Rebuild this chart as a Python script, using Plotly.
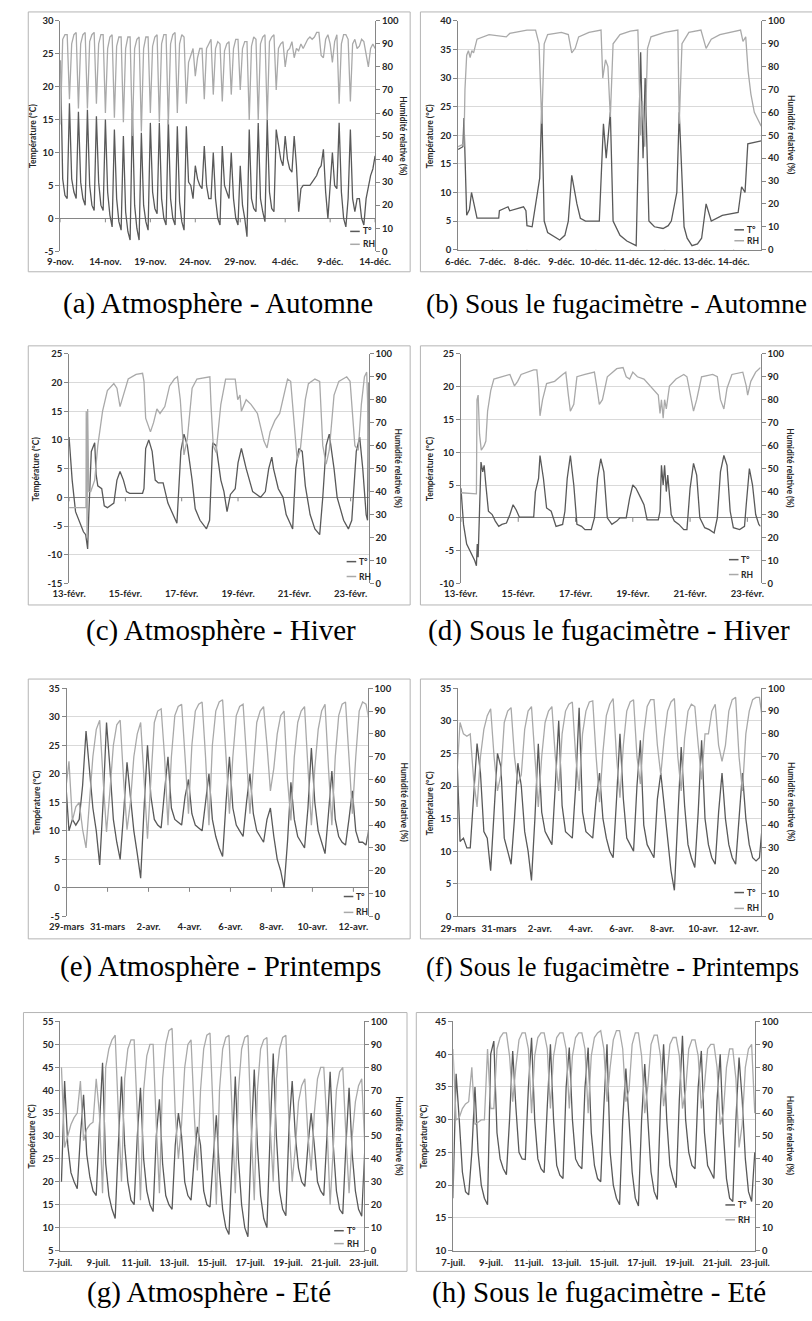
import plotly.graph_objects as go

W, H = 812, 1321

# ---------------- tick labels ----------------
aut_a_labels = ["9-nov.", "14-nov.", "19-nov.", "24-nov.", "29-nov.", "4-déc.", "9-déc.", "14-déc."]
aut_a_pos = [0, 5, 10, 15, 20, 25, 30, 35]
aut_b_labels = ["6-déc.", "7-déc.", "8-déc.", "9-déc.", "10-déc.", "11-déc.", "12-déc.", "13-déc.", "14-déc."]
aut_b_pos = [0, 1, 2, 3, 4, 5, 6, 7, 8]
hiv_labels = ["13-févr.", "15-févr.", "17-févr.", "19-févr.", "21-févr.", "23-févr."]
hiv_pos = [0, 2, 4, 6, 8, 10]
pri_labels = ["29-mars", "31-mars", "2-avr.", "4-avr.", "6-avr.", "8-avr.", "10-avr.", "12-avr."]
pri_pos = [0, 2, 4, 6, 8, 10, 12, 14]
ete_labels = ["7-juil.", "9-juil.", "11-juil.", "13-juil.", "15-juil.", "17-juil.", "19-juil.", "21-juil.", "23-juil."]
ete_pos = [0, 2, 4, 6, 8, 10, 12, 14, 16]
rh_ticks = [0, 10, 20, 30, 40, 50, 60, 70, 80, 90, 100]

# ---------------- (a) Atmosphère - Automne : samples every 6 h from 9-nov ----------------
a_step = 0.25
a_temp = [24, 6, 3.5, 3.0, 17.5, 6, 4, 3.0, 16.2, 5.5, 3, 2.0, 16.5, 5, 2, 1.2,
          15.5, 5.5, 2, 1.2, 15.0, 4, 0.5, -1.3, 13.5, 3, -0.5, -1.8, 12.5, 1, -2, -3.3,
          16.0, 2, -1.5, -3.3, 13.0, 2, -0.5, -1.8, 14.5, 4, 1.5, 0.7, 14.5, 3, 0, -1.0,
          15.0, 3, 0, -1.0, 14.0, 2.5, -0.5, -1.8, 14.0, 5.5, 5, 3.0, 8.0, 6, 5, 4.5,
          11.0, 5, 3, 3.0, 10.0, 3, 0, -1.0, 11.0, 5, 4, 3.0, 10.0, 3, 0, -1.0,
          8.0, 2, 0, -2.8, 13.5, 3, 1.5, 1.0, 14.5, 3, 1, -0.5, 15.0, 4, 1.5, 1.0,
          13.5, 11, 9, 8, 12.5, 9, 7.5, 7, 12.5, 8, 1, 4.5, 5, 5, 5, 5,
          5.5, 6, 6.5, 7.5, 8, 10.5, 4, 0, 4.5, 10, 5, 4.5, 14.5, 4, 0, -1.3,
          3, 13.5, 3, 1, 3, 3, 0, -1, 3, 5, 6.5, 7.5, 9.5]
a_rh = [55, 92, 94, 94, 66, 90, 94, 95, 62, 90, 94, 95, 62, 91, 94, 95,
        64, 90, 94, 94, 60, 88, 93, 94, 58, 89, 93, 93, 56, 88, 93, 93,
        50, 88, 92, 93, 52, 88, 93, 93, 60, 89, 93, 94, 56, 90, 94, 94,
        55, 90, 94, 95, 60, 90, 94, 93, 64, 82, 85, 88, 76, 84, 88, 88,
        66, 88, 90, 92, 68, 88, 91, 90, 65, 87, 90, 91, 68, 88, 92, 92,
        70, 88, 91, 91, 57, 89, 93, 92, 57, 90, 93, 94, 57, 91, 93, 94,
        70, 88, 90, 91, 80, 87, 88, 91, 84, 88, 87, 90, 88, 90, 92, 93,
        92, 93, 95, 95, 85, 84, 92, 94, 90, 82, 91, 94, 64, 90, 94, 94,
        92, 65, 90, 92, 88, 89, 92, 91, 86, 80, 88, 90, 88]

# ---------------- (b) Sous le fugacimètre - Automne : (day, value) ----------------
b_temp_day = [0, 0.14, 0.17, 0.25, 0.33, 0.39, 0.55, 1.18, 1.2, 1.45, 1.5, 1.9, 1.97, 2.0, 2.15, 2.25,
              2.37, 2.43, 2.5, 2.6, 2.85, 2.95, 3.1, 3.2, 3.3, 3.45, 3.55, 3.7, 4.1, 4.22, 4.3, 4.42,
              4.5, 4.7, 4.9, 5.07, 5.17, 5.3, 5.37, 5.43, 5.54, 5.7, 5.95, 6.1, 6.19, 6.35, 6.42, 6.56,
              6.65, 6.79, 6.95, 7.07, 7.2, 7.35, 7.67, 8.13, 8.23, 8.33, 8.41, 8.8]
b_temp = [17.5, 18, 23, 6, 7, 10, 5.5, 5.5, 6.8, 7.5, 6.8, 7.5, 6.8, 4.2, 4, 8,
          12.5, 25, 5, 3, 2, 1.7, 2.5, 5, 13, 8, 5.5, 5, 5, 22, 16, 24,
          5, 2.5, 1.5, 1, 0.7, 34.5, 16, 30, 5, 4, 3.7, 4.2, 5, 10, 24, 4,
          2, 0.7, 1, 2, 8, 5, 6, 6.5, 11, 10, 18.5, 19]
b_rh_day = [0, 0.14, 0.17, 0.2, 0.25, 0.3, 0.35, 0.4, 0.45, 0.55, 0.9, 1.4, 1.5, 2.0, 2.25, 2.35,
            2.43, 2.5, 2.6, 3.0, 3.2, 3.3, 3.4, 3.5, 3.8, 4.15, 4.2, 4.28, 4.35, 4.42, 4.5, 4.7,
            5.0, 5.22, 5.3, 5.35, 5.42, 5.5, 5.6, 6.0, 6.38, 6.42, 6.5, 6.7, 7.05, 7.2, 7.35, 7.6,
            8.2, 8.27, 8.35, 8.42, 8.5, 8.6, 8.7, 8.8]
b_rh = [45, 46, 45, 70, 85, 87, 84, 87, 86, 92, 94, 93, 94.5, 96, 96, 90,
        55, 90, 94, 95, 94, 86, 88, 93, 95, 96, 75, 83, 80, 58, 90, 94,
        95.5, 96, 50, 65, 45, 88, 93, 95, 96, 55, 90, 95, 96, 88, 92, 94,
        96, 91, 93, 78, 68, 60, 57, 54]

# ---------------- (c) Atmosphère - Hiver : (day, value) ----------------
c_temp_day = [0, 0.11, 0.23, 0.4, 0.51, 0.59, 0.62, 0.66, 0.7, 0.75, 0.79, 0.91, 0.96, 1.02, 1.16, 1.25,
              1.36, 1.59, 1.7, 1.81, 1.93, 2.04, 2.15, 2.61, 2.66, 2.72, 2.83, 2.95, 3.06, 3.17, 3.34, 3.51,
              3.68, 3.83, 3.97, 4.08, 4.2, 4.37, 4.48, 4.65, 4.88, 4.99, 5.1, 5.22, 5.39, 5.5, 5.61, 5.73,
              5.9, 6.0, 6.12, 6.29, 6.52, 6.8, 6.97, 7.09, 7.2, 7.26, 7.43, 7.6, 7.71, 7.94, 8.05, 8.16,
              8.28, 8.39, 8.56, 8.73, 8.9, 9.01, 9.13, 9.24, 9.41, 9.52, 9.75, 9.92, 10.04, 10.2, 10.32, 10.43,
              10.55, 10.6, 10.64]
c_temp = [10.5, 3, -2.5, -4.5, -6, -6.5, -7.5, -9, -3, 2, 8, 9.5, 4, 2, 1.5, -1.5,
          -1.8, -1, 3, 4.5, 3, 1, 0.7, 0.7, 1.5, 8.5, 10, 8, 3, 2.5, 2.5, -1,
          -3, -4.5, 8, 11, 9, 3, -2, -4, -5.5, -4, 9.5, 9, 3, 1, -2.5, 0.5,
          1.5, 6, 8.5, 5, 1, 0, 1, 5, 7, 5, 1.5, 0, -3, -5.5, 5, 8.5,
          8, 2, -3, -5.5, -6.5, 0, 9, 11, 5, 0, -4, -5.5, -4, 8, 10.5, 5,
          -3, -4, 20]
c_rh_day = [0, 0.6, 0.61, 0.64, 0.66, 0.7, 0.77, 0.91, 1.02, 1.19, 1.36, 1.59, 1.7, 1.81, 1.93, 2.1,
            2.38, 2.61, 2.66, 2.72, 2.89, 3.0, 3.12, 3.23, 3.4, 3.57, 3.74, 3.85, 3.95, 4.08, 4.2, 4.37,
            4.54, 5.0, 5.04, 5.12, 5.22, 5.39, 5.56, 5.9, 5.99, 6.07, 6.12, 6.29, 6.46, 6.69, 6.92, 7.03,
            7.14, 7.31, 7.48, 7.65, 7.76, 7.87, 7.99, 8.1, 8.21, 8.39, 8.5, 8.73, 8.9, 9.01, 9.13, 9.24,
            9.41, 9.58, 9.86, 9.98, 10.15, 10.27, 10.38, 10.49, 10.57, 10.6, 10.64]
c_rh = [33, 33, 75, 20, 76, 40, 40, 45, 60, 75, 84, 87, 85, 77, 82, 89,
        91, 91.5, 88, 72, 66, 70, 76, 74, 77, 86, 89, 90, 80, 56, 63, 85,
        89, 90, 78, 60, 57, 78, 89, 89, 80, 82, 75, 80, 78, 74, 62, 59,
        66, 71, 74, 84, 89, 88, 70, 54, 58, 80, 87, 89, 88, 60, 52, 58,
        82, 88, 90, 88, 60, 58, 78, 90, 92, 80, 40]

# ---------------- (d) Sous le fugacimètre - Hiver : (day, value) ----------------
d_temp_day = [0, 0.09, 0.2, 0.37, 0.48, 0.54, 0.57, 0.6, 0.65, 0.7, 0.76, 0.81, 0.87, 0.96, 1.09, 1.2,
              1.32, 1.43, 1.59, 1.71, 1.82, 1.93, 2.04, 2.54, 2.6, 2.71, 2.76, 2.88, 2.99, 3.15, 3.32, 3.55,
              3.63, 3.71, 3.82, 3.94, 4.05, 4.21, 4.33, 4.55, 4.66, 4.77, 4.88, 4.99, 5.11, 5.27, 5.44, 5.55,
              5.77, 5.89, 6.0, 6.11, 6.28, 6.39, 6.5, 6.89, 6.95, 7.0, 7.06, 7.11, 7.17, 7.22, 7.34, 7.45,
              7.61, 7.78, 7.89, 8.0, 8.12, 8.23, 8.34, 8.51, 8.67, 8.84, 8.95, 9.06, 9.18, 9.29, 9.4, 9.51,
              9.73, 9.9, 9.96, 10.07, 10.18, 10.29, 10.4, 10.46]
d_temp = [4.5, -1, -4, -5.5, -6.5, -7.3, -4, -6, 2, 8.5, 7, 8, 5, 1, 0.5, -0.5,
          -1.3, -1, -0.8, 0.5, 2, 1.2, 0.1, 0.1, 4, 6, 9.5, 6, 1.5, 1, -1.3, -1,
          1, 6, 9.5, 5, -1, -1.3, -1.8, -1.8, 0, 6, 9, 7, 0, -1, -0.5, 0,
          0, 3, 5, 4.5, 3, 2, -0.3, -0.3, 1, 8, 5, 8, 4, 6.5, 0.5, -0.5,
          -1, -1.8, -1.8, 4.5, 8.3, 6.5, 0, -1.5, -1.8, -2.3, 0, 7, 9.5, 8, 1, -1.5,
          -1.8, -1.3, 2, 7.5, 5, 0.5, -1, -1.3]
d_rh_day = [0, 0.48, 0.54, 0.56, 0.6, 0.65, 0.71, 0.81, 0.87, 0.93, 1.04, 1.15, 1.43, 1.71, 1.87, 1.98,
            2.1, 2.54, 2.65, 2.71, 2.76, 2.85, 2.99, 3.27, 3.55, 3.66, 3.75, 3.82, 3.94, 4.05, 4.33, 4.66,
            4.75, 4.83, 4.94, 5.11, 5.44, 5.66, 5.77, 5.89, 6.0, 6.16, 6.39, 6.67, 6.89, 6.95, 7.0, 7.06,
            7.11, 7.17, 7.28, 7.51, 7.78, 7.89, 8.0, 8.12, 8.23, 8.4, 8.79, 8.95, 9.06, 9.18, 9.29, 9.46,
            9.84, 9.96, 10.01, 10.12, 10.29, 10.46]
d_rh = [39.5, 39, 39, 80, 82, 65, 58, 60, 62, 75, 84, 89, 90, 91, 86, 88,
        91, 93, 93, 85, 73, 80, 87, 88, 91, 92, 82, 75, 78, 90, 91, 92,
        85, 78, 80, 90, 93.5, 94, 90, 89, 92, 90, 89, 85, 82, 74, 80, 72,
        80, 76, 86, 89, 91, 90, 82, 75, 80, 90, 91, 90, 80, 76, 85, 91,
        92, 86, 82, 88, 92, 94]

# ---------------- (e) Atmosphère - Printemps : samples every 4 h ----------------
e_start, e_step = -0.05, 1 / 6
e_temp = [19, 10, 12, 11, 12, 18,
          27.5, 20, 14, 10, 4, 15, 29, 21, 12, 8, 5, 13, 22, 16, 10, 6, 1.7, 14,
          25, 16, 12, 11, 10.5, 17, 23, 14, 12, 11.5, 11, 16, 19, 13, 11, 10.5, 10, 15,
          20, 12, 9, 7, 5.5, 15, 23, 14, 11, 10, 9, 15, 20, 13, 10, 9, 8, 12,
          14, 9, 5, 3, 0, 8, 18.5, 12, 9, 8, 7, 14, 24.5, 15, 10, 8, 6, 13,
          20.5, 12, 9, 8, 7.5, 12, 17, 10, 8, 8, 7.5, 11]
e_rh = [55, 68, 42, 48, 50, 38,
        30, 50, 70, 82, 86, 60, 37, 55, 75, 84, 86, 60, 38, 50, 70, 80, 85, 60,
        34, 60, 85, 90, 91, 70, 40, 70, 88, 92, 93, 70, 45, 75, 90, 93, 94, 70,
        40, 75, 90, 94, 95, 70, 45, 70, 88, 92, 93, 70, 45, 65, 85, 90, 92, 75,
        55, 65, 80, 88, 90, 60, 42, 70, 85, 90, 92, 65, 40, 65, 82, 90, 93, 65,
        40, 70, 88, 93, 94, 70, 45, 70, 90, 94, 93, 85]

# ---------------- (f) Sous le fugacimètre - Printemps : samples every 4 h ----------------
f_start, f_step = -0.07, 1 / 6
f_temp = [26, 11.5, 12, 10.5, 10.5, 18,
          26.5, 22, 13, 12, 7, 16, 25, 23, 12, 10, 8, 15, 23.5, 20, 13, 10, 5.5, 15,
          26.5, 16, 13, 12, 11, 20, 30, 17, 13, 12.5, 12, 20, 32, 16, 13, 12.5, 12, 18,
          22, 15, 12, 10, 9, 18, 28, 18, 12, 11, 10, 20, 27, 14, 11, 10, 9, 18,
          22, 17, 12, 7, 4, 14, 26, 17, 11, 9, 7.5, 16, 27, 15, 11, 9, 8, 16,
          22, 15, 11, 9, 8, 15, 22, 15, 11, 9, 8.5, 9, 15]
f_rh = [60, 85, 80, 79, 80, 60,
        48, 70, 82, 88, 91, 70, 55, 62, 85, 90, 91.5, 70, 58, 62, 82, 90, 92, 70,
        48, 70, 85, 90, 92, 70, 55, 80, 90, 93, 94, 70, 55, 80, 90, 94, 94.5, 70,
        50, 72, 88, 93, 95.5, 70, 52, 75, 90, 94, 95, 70, 58, 80, 92, 95, 95, 75,
        62, 78, 90, 94, 95.5, 70, 55, 78, 90, 93, 92, 75, 60, 80, 80, 90, 93, 75,
        68, 75, 90, 95, 96, 70, 55, 80, 90, 95, 96, 96, 85]

# ---------------- (g) Atmosphère - Eté : samples every 4 h ----------------
g_start, g_step = 0.053, 1 / 6
g_temp = [20,
          42, 28, 22, 20, 18.5, 30, 39, 26, 21, 18, 17, 32, 46, 24, 17, 14, 12, 28,
          43, 28, 20, 16, 15, 30, 40.5, 25, 18, 15, 13.5, 30, 38, 24, 17, 15, 14, 28,
          35, 30, 20, 17, 16, 25, 32, 28, 18, 15, 14.5, 25, 34.5, 22, 14, 10, 8.5, 25,
          43, 25, 15, 10, 8, 28, 44.5, 28, 17, 12, 10, 30, 48, 30, 18, 14, 12.6, 32,
          42, 30, 23, 20, 19, 28, 35, 28, 20, 18, 17, 30, 44, 28, 18, 14, 13, 28,
          40.5, 26, 18, 14, 12.5, 27.5]
g_rh = [80,
        45, 50, 55, 58, 60, 74, 48, 53, 55, 56, 75, 60, 25, 80, 88, 92, 94, 60,
        30, 75, 88, 92, 92, 60, 22, 70, 85, 90, 90, 55, 25, 75, 90, 96, 97, 60,
        40, 55, 80, 90, 92, 60, 35, 70, 88, 94, 95, 60, 20, 70, 88, 93, 94, 60,
        25, 70, 88, 93, 94, 55, 22, 70, 88, 92, 93, 55, 30, 75, 88, 93, 94, 55,
        30, 45, 65, 72, 75, 50, 35, 60, 75, 80, 80, 55, 20, 45, 70, 78, 80, 50,
        25, 50, 65, 72, 75, 45]

# ---------------- (h) Sous le fugacimètre - Eté : samples every 4 h ----------------
h_start, h_step = -0.0167, 1 / 6
h_temp = [18,
          37, 30, 22, 19, 18.5, 25, 35, 25, 20, 18, 17, 40, 42, 28, 24, 22.5, 21.6, 30,
          40.5, 32, 25, 24, 23.9, 35, 42.5, 30, 24, 22.5, 21.9, 32, 41.5, 30, 23, 21.5, 21, 35,
          41, 30, 24, 23, 22.5, 35, 41, 28, 23, 21, 20.5, 32, 41.5, 25, 20, 18, 17, 30,
          37.8, 30, 22, 18, 16.8, 30, 38.5, 30, 22, 19, 17.8, 32, 41.5, 30, 23, 21, 19.6, 33,
          42.8, 30, 25, 23, 22.5, 35, 40.5, 28, 23, 22, 21, 33, 40, 28, 21, 18, 17.5, 30,
          39.5, 33, 24, 19, 17.5, 25]
h_rh = [88,
        57, 58, 62, 64, 65, 80, 55, 56, 57, 57, 88, 62, 62, 88, 93, 95, 95, 85,
        65, 80, 92, 95, 95, 88, 60, 85, 93, 95, 95, 88, 62, 85, 93, 95, 95, 88,
        62, 85, 93, 95, 95, 88, 60, 85, 93, 95, 96, 88, 65, 80, 92, 96, 96, 88,
        65, 70, 90, 95, 95, 85, 60, 72, 90, 94, 94, 85, 63, 75, 90, 93, 93, 85,
        62, 70, 88, 92, 92, 85, 62, 72, 88, 90, 90, 80, 55, 60, 80, 88, 88, 75,
        45, 55, 80, 88, 90, 60]

# ---------------- style ----------------
T_COLOR = "#595959"
RH_COLOR = "#a9a9a9"
GRID = "#d9d9d9"
AXIS = "#868686"
BORDER = "#b4b4b4"
TXT = "#262626"
TICKFONT = dict(family="Lato", size=9.5, color=TXT, weight="bold")
TITLEFONT = dict(family="Lato", size=8.5, color=TXT, weight="bold")
CAPFAMILY = "Liberation Serif"


def uniform_x(start, step, n):
    return [start + i * step for i in range(n)]


def yticks(lo, hi):
    return list(range(lo, hi + 1, 5))


panels = [
    dict(plot=(44.3, 372.7, 15, 247.3), border=(10.7, 409.3, 6, 268), yr=(-5, 30), xr=(0, 35),
         xt=aut_a_pos, xl=aut_a_labels, tx=uniform_x(0, a_step, len(a_temp)), ty=a_temp,
         hx=uniform_x(0, a_step, len(a_rh)), hy=a_rh, xline=False,
         lt=15.7, rt=401.7, leg=(26, 16, 20, 7),
         cap="(a) Atmosphère - Automne", capx=209, capy=300, capanchor="center", capsize=29),
    dict(plot=(459.3, 775.7, 15, 245.7), border=(420, 830, 6, 268), yr=(0, 40), xr=(0, 8.8),
         xt=aut_b_pos, xl=aut_b_labels, tx=b_temp_day, ty=b_temp, hx=b_rh_day, hy=b_rh, xline=True,
         lt=430, rt=806, leg=(28, 18, 20, 9),
         cap="(b) Sous le fugacimètre - Automne", capx=424, capy=300, capanchor="left", capsize=27.5),
    dict(plot=(53.3, 366, 350.7, 582.3), border=(10.7, 409.3, 342.7, 604), yr=(-15, 25), xr=(0, 10.64),
         xt=hiv_pos, xl=hiv_labels, tx=c_temp_day, ty=c_temp, hx=c_rh_day, hy=c_rh, xline=False,
         lt=18.3, rt=396.7, leg=(23, 13, 22, 7),
         cap="(c) Atmosphère - Hiver", capx=212, capy=629.5, capanchor="center", capsize=29),
    dict(plot=(462.3, 775, 350.7, 582.3), border=(420, 830, 342.7, 604), yr=(-10, 25), xr=(0, 10.46),
         xt=hiv_pos, xl=hiv_labels, tx=d_temp_day, ty=d_temp, hx=d_rh_day, hy=d_rh, xline=False,
         lt=429.3, rt=806, leg=(33, 23, 24, 9),
         cap="(d) Sous le fugacimètre - Hiver", capx=617, capy=629.5, capanchor="center", capsize=29),
    dict(plot=(50.7, 365, 688, 918), border=(10.7, 409.3, 678.7, 940.7), yr=(-5, 35), xr=(0, 14.7),
         xt=pri_pos, xl=pri_labels, tx=uniform_x(e_start, e_step, len(e_temp)), ty=e_temp,
         hx=uniform_x(e_start, e_step, len(e_rh)), hy=e_rh, xline=False,
         lt=20, rt=402.7, leg=(25, 15, 20, 4),
         cap="(e) Atmosphère - Printemps", capx=211, capy=968.7, capanchor="center", capsize=29),
    dict(plot=(459.3, 775.7, 688, 918), border=(420, 830, 678.7, 940.7), yr=(0, 35), xr=(0, 14.85),
         xt=pri_pos, xl=pri_labels, tx=uniform_x(f_start, f_step, len(f_temp)), ty=f_temp,
         hx=uniform_x(f_start, f_step, len(f_rh)), hy=f_rh, xline=True,
         lt=430, rt=806, leg=(28, 18, 24, 8),
         cap="(f) Sous le fugacimètre - Printemps", capx=424, capy=968.7, capanchor="left", capsize=26.5),
    dict(plot=(44.3, 361, 1024, 1255), border=(5.7, 406, 1015, 1276), yr=(5, 55), xr=(0, 16),
         xt=ete_pos, xl=ete_labels, tx=uniform_x(g_start, g_step, len(g_temp)), ty=g_temp,
         hx=uniform_x(g_start, g_step, len(g_rh)), hy=g_rh, xline=True,
         lt=15, rt=397.3, leg=(31, 21, 20, 7),
         cap="(g) Atmosphère - Eté", capx=199, capy=1297.5, capanchor="center", capsize=29),
    dict(plot=(454.3, 769.3, 1024, 1255), border=(415.7, 830, 1015, 1276), yr=(10, 45), xr=(0, 16),
         xt=ete_pos, xl=ete_labels, tx=uniform_x(h_start, h_step, len(h_temp)), ty=h_temp,
         hx=uniform_x(h_start, h_step, len(h_rh)), hy=h_rh, xline=True,
         lt=423.3, rt=806, leg=(31, 21, 46, 31),
         cap="(h) Sous le fugacimètre - Eté", capx=606, capy=1297.5, capanchor="center", capsize=29),
]


def fx(x):
    return x / W


def fy(y):
    return 1 - y / H


fig = go.Figure()
layout = {}
shapes = []
annotations = []

for n, p in enumerate(panels, start=1):
    xa = "x" if n == 1 else f"x{n}"
    yl = "y" if n == 1 else f"y{n}"
    yr = f"y{n + 8}"
    xkey = "xaxis" if n == 1 else f"xaxis{n}"
    ykey = "yaxis" if n == 1 else f"yaxis{n}"
    rkey = f"yaxis{n + 8}"
    L, R, T, B = p["plot"]

    fig.add_trace(go.Scatter(x=p["tx"], y=p["ty"], xaxis=xa, yaxis=yl, mode="lines",
                             line=dict(color=T_COLOR, width=1.3), showlegend=False, hoverinfo="skip"))
    fig.add_trace(go.Scatter(x=p["hx"], y=p["hy"], xaxis=xa, yaxis=yr, mode="lines",
                             line=dict(color=RH_COLOR, width=1.3), showlegend=False, hoverinfo="skip"))

    lt = yticks(*p["yr"])
    layout[xkey] = dict(domain=[fx(L), fx(R)], anchor=yl, range=list(p["xr"]),
                        tickmode="array", tickvals=p["xt"], ticktext=p["xl"],
                        showgrid=False, zeroline=False, showline=p["xline"], linecolor=AXIS,
                        ticks="", tickfont=TICKFONT, ticklabelstandoff=3, fixedrange=True)
    layout[ykey] = dict(domain=[fy(B), fy(T)], anchor=xa, range=list(p["yr"]),
                        tickmode="array", tickvals=lt, ticktext=[str(v) for v in lt],
                        showgrid=True, gridcolor=GRID, gridwidth=1,
                        zeroline=True, zerolinecolor=AXIS, zerolinewidth=1,
                        showline=True, linecolor=AXIS, linewidth=1,
                        ticks="outside", ticklen=4, tickcolor=AXIS, tickfont=TICKFONT, fixedrange=True)
    layout[rkey] = dict(domain=[fy(B), fy(T)], anchor=xa, overlaying=yl, side="right", range=[0, 100],
                        tickmode="array", tickvals=rh_ticks, ticktext=[str(v) for v in rh_ticks],
                        showgrid=False, zeroline=False, showline=True, linecolor=AXIS, linewidth=1,
                        ticks="outside", ticklen=4, tickcolor=AXIS, tickfont=TICKFONT, fixedrange=True)

    # small tick marks on the horizontal axis line (at 0, or at the bottom when 0 is out of range)
    base = max(0, p["yr"][0])
    for tv in p["xt"]:
        shapes.append(dict(type="line", xref=xa, yref=yl, x0=tv, x1=tv, ysizemode="pixel", yanchor=base,
                           y0=-4, y1=0, line=dict(color=AXIS, width=1)))

    bl, br, bt, bb = p["border"]
    shapes.append(dict(type="rect", xref="paper", yref="paper", x0=fx(bl), x1=fx(br), y0=fy(bb), y1=fy(bt),
                       line=dict(color=BORDER, width=1), fillcolor="rgba(0,0,0,0)", layer="below"))

    mid = (T + B) / 2
    annotations.append(dict(text="Température (°C)", x=fx(p["lt"]), y=fy(mid), xref="paper", yref="paper",
                            textangle=-90, showarrow=False, font=TITLEFONT, xanchor="center", yanchor="middle"))
    annotations.append(dict(text="Humidité relative (%)", x=fx(p["rt"]), y=fy(mid), xref="paper", yref="paper",
                            textangle=90, showarrow=False, font=TITLEFONT, xanchor="center", yanchor="middle"))

    d0, d1, oT, oR = p["leg"]
    for label, color, off in (("T°", T_COLOR, oT), ("RH", RH_COLOR, oR)):
        shapes.append(dict(type="line", xref="paper", yref="paper", x0=fx(R - d0), x1=fx(R - d1),
                           y0=fy(B - off), y1=fy(B - off), line=dict(color=color, width=1.5)))
        annotations.append(dict(text=label, x=fx(R - d1 + 1), y=fy(B - off), xref="paper", yref="paper",
                                showarrow=False, font=TITLEFONT, xanchor="left", yanchor="middle"))

    annotations.append(dict(text=p["cap"], x=fx(p["capx"]), y=fy(p["capy"]), xref="paper", yref="paper",
                            showarrow=False, font=dict(family=CAPFAMILY, size=p["capsize"], color="#000000"),
                            xanchor=p["capanchor"], yanchor="middle"))

fig.update_layout(
    width=W, height=H, margin=dict(l=0, r=0, t=0, b=0),
    paper_bgcolor="white", plot_bgcolor="rgba(0,0,0,0)",
    font=dict(family="Lato", color=TXT),
    showlegend=False, shapes=shapes, annotations=annotations,
    **layout,
)

fig.write_html("out.html", config={"displayModeBar": False, "staticPlot": True},
               post_script="document.body.style.margin='0';document.body.style.padding='0';")
